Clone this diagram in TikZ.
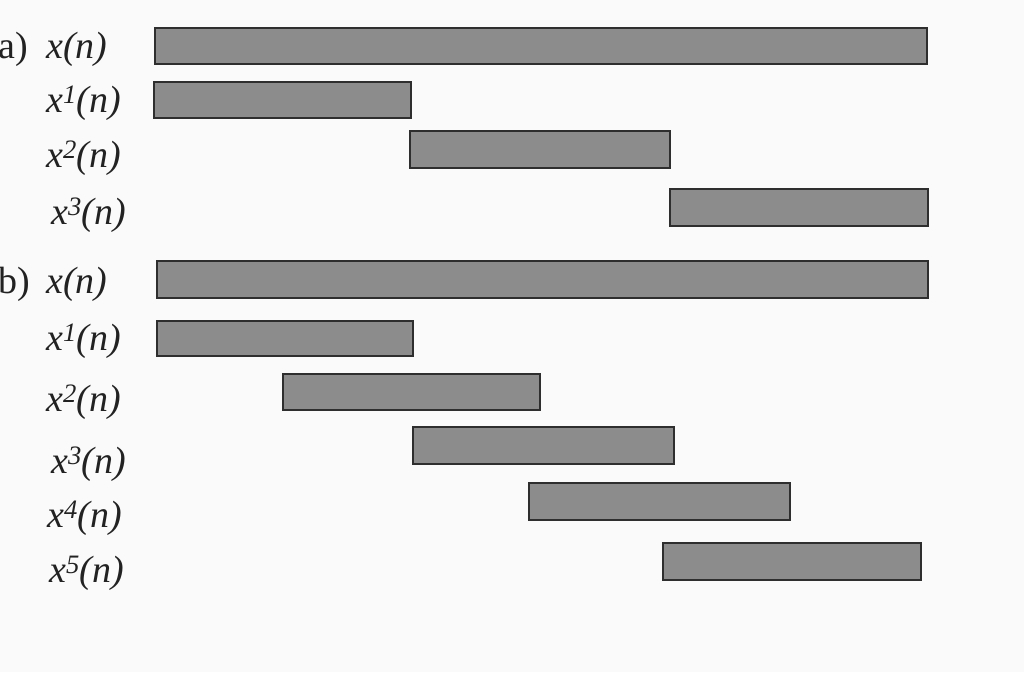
\documentclass[tikz,border=0pt]{standalone}
\usepackage{fontspec}
\setmainfont{Liberation Serif}
\definecolor{barfill}{HTML}{8C8C8C}
\definecolor{barline}{HTML}{2E2E2E}
\definecolor{paper}{HTML}{FAFAFA}
\definecolor{ink}{HTML}{222222}
\begin{document}
\begin{tikzpicture}[x=1pt,y=-1pt,
  bar/.style={draw=barline, line width=2pt, fill=barfill, anchor=north west, inner sep=0pt, outer sep=0pt},
  lbl/.style={anchor=west, inner sep=0pt, text=ink, font=\fontsize{38}{40}\selectfont\itshape, text height=0.69em, text depth=0.22em},
  part/.style={anchor=west, inner sep=0pt, text=ink, font=\fontsize{38}{40}\selectfont, text height=0.69em, text depth=0.22em}]
\fill[paper] (0,0) rectangle (1024,672);
\useasboundingbox (0,0) rectangle (1024,672);
% part a
\node[part] (pa) at (-2,56) {a)};
\node[lbl] (la0) at (46,56) {x(n)};
\node[lbl] (la1) at (46,110) {x\textsuperscript{1}(n)};
\node[lbl] (la2) at (46,165) {x\textsuperscript{2}(n)};
\node[lbl] (la3) at (51,222) {x\textsuperscript{3}(n)};
\node[bar, minimum width=772pt, minimum height=36pt] (ba0) at (155,28) {};
\node[bar, minimum width=257pt, minimum height=36pt] (ba1) at (154,82) {};
\node[bar, minimum width=260pt, minimum height=37pt] (ba2) at (410,131) {};
\node[bar, minimum width=258pt, minimum height=37pt] (ba3) at (670,189) {};
% part b
\node[part] (pb) at (-2,291) {b)};
\node[lbl] (lb0) at (46,291) {x(n)};
\node[lbl] (lb1) at (46,348) {x\textsuperscript{1}(n)};
\node[lbl] (lb2) at (46,409) {x\textsuperscript{2}(n)};
\node[lbl] (lb3) at (51,471) {x\textsuperscript{3}(n)};
\node[lbl] (lb4) at (47,525) {x\textsuperscript{4}(n)};
\node[lbl] (lb5) at (49,580) {x\textsuperscript{5}(n)};
\node[bar, minimum width=771pt, minimum height=37pt] (bb0) at (157,261) {};
\node[bar, minimum width=256pt, minimum height=35pt] (bb1) at (157,321) {};
\node[bar, minimum width=257pt, minimum height=36pt] (bb2) at (283,374) {};
\node[bar, minimum width=261pt, minimum height=37pt] (bb3) at (413,427) {};
\node[bar, minimum width=261pt, minimum height=37pt] (bb4) at (529,483) {};
\node[bar, minimum width=258pt, minimum height=37pt] (bb5) at (663,543) {};
\end{tikzpicture}
\end{document}
